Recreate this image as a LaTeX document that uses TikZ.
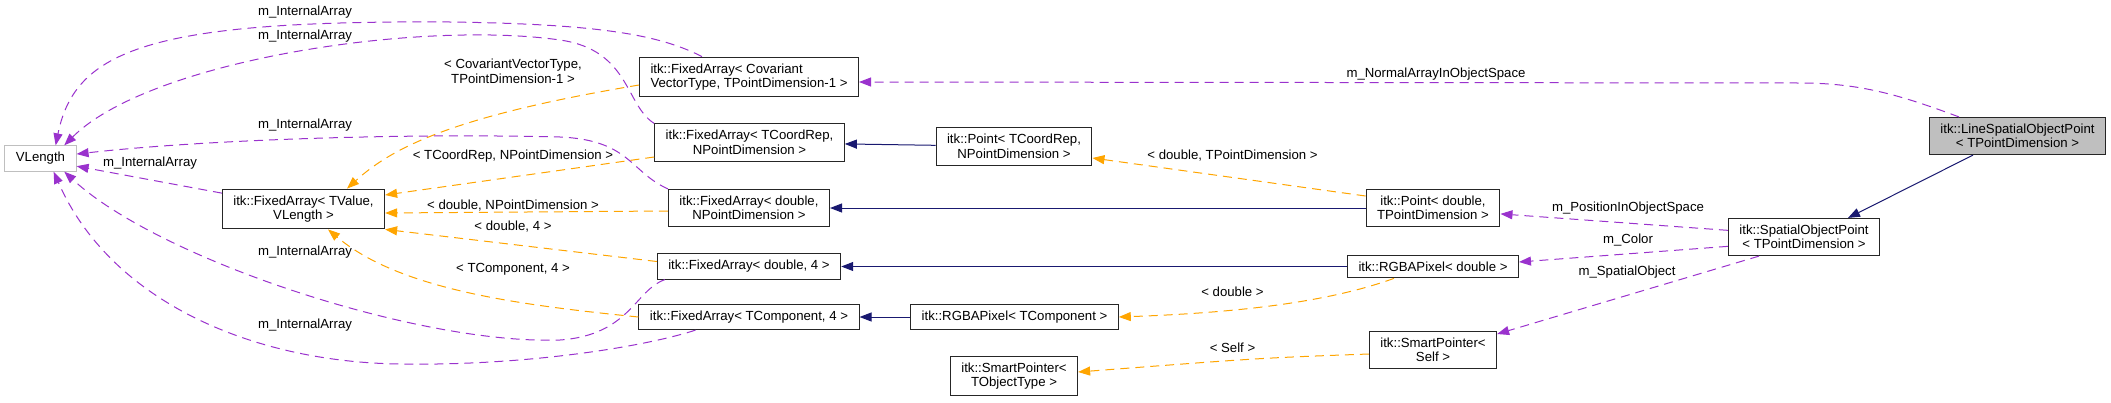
\documentclass[tikz,border=0pt]{standalone}
\usepackage{fontspec}
\setmainfont{Liberation Sans}
\usetikzlibrary{arrows.meta}
\definecolor{usecol}{HTML}{9A32CD}
\definecolor{tplcol}{HTML}{FFA500}
\definecolor{inhcol}{HTML}{191970}
\definecolor{boxgray}{HTML}{BFBFBF}

\begin{document}
\begin{tikzpicture}[x=1pt,y=-1pt,
  every node/.style={font=\fontsize{13.2}{14.5}\selectfont},
  klass/.style={draw=black!85,line width=1pt,fill=white,inner xsep=11pt,inner ysep=6.5pt,align=center},
  elab/.style={inner sep=0pt,align=center},
  usage/.style={draw=usecol,line width=1pt,dash pattern=on 9pt off 6pt,-{Triangle[length=12pt,width=9pt]}},
  templ/.style={draw=tplcol,line width=1pt,dash pattern=on 9pt off 6pt,-{Triangle[length=12pt,width=9pt]}},
  inherit/.style={draw=inhcol,line width=1pt,-{Triangle[length=12pt,width=9pt]}}]
  \useasboundingbox (0,0) rectangle (2111,402);

  \node[klass,draw=boxgray] (vlen) at (40.5,158.5) {VLength};
  \node[klass] (fatv) at (303.5,209) {itk::FixedArray< TValue,\\VLength >};
  \node[klass,align=left] (facov) at (749,77) {itk::FixedArray< Covariant\\VectorType, TPointDimension-1 >};
  \node[klass] (facoord) at (749.5,142.5) {itk::FixedArray< TCoordRep,\\NPointDimension >};
  \node[klass] (fadblnp) at (749,208) {itk::FixedArray< double,\\NPointDimension >};
  \node[klass] (fadbl4) at (749,266.5) {itk::FixedArray< double, 4 >};
  \node[klass] (facomp4) at (749,317) {itk::FixedArray< TComponent, 4 >};
  \node[klass] (ptcoord) at (1014,146.5) {itk::Point< TCoordRep,\\NPointDimension >};
  \node[klass] (rgbacomp) at (1014.5,317) {itk::RGBAPixel< TComponent >};
  \node[klass] (sptobj) at (1014,376) {itk::SmartPointer<\\TObjectType >};
  \node[klass] (ptdbl) at (1433,208) {itk::Point< double,\\TPointDimension >};
  \node[klass] (rgbadbl) at (1433,266.5) {itk::RGBAPixel< double >};
  \node[klass] (sptself) at (1433,350) {itk::SmartPointer<\\Self >};
  \node[klass] (spatial) at (1804,237) {itk::SpatialObjectPoint\\< TPointDimension >};
  \node[klass,fill=boxgray] (linesp) at (2017.5,136) {itk::LineSpatialObjectPoint\\< TPointDimension >};

  \draw[inherit] ([xshift=-44.5pt]linesp.south) -- ([xshift=44pt]spatial.north);
  \foreach \a/\b in {ptcoord/facoord,ptdbl/fadblnp,rgbadbl/fadbl4,rgbacomp/facomp4}
    \draw[inherit] (\a) -- (\b);

  \draw[templ] ([yshift=-8pt]facov.west) .. controls (460,115) and (395,145) .. ([xshift=43.5pt]fatv.north);
  \draw[templ] ([yshift=-14.5pt]facoord.west) -- ([yshift=14pt]fatv.east);
  \draw[templ] ([yshift=-3pt]fadblnp.west) -- ([yshift=-4pt]fatv.east);
  \draw[templ] ([yshift=5pt]fadbl4.west) -- (fatv.south east);
  \draw[templ] (facomp4.west) .. controls (520,305) and (400,290) .. ([xshift=24.5pt]fatv.south);
  \draw[templ] ([yshift=12pt]ptdbl.west) -- ([yshift=-11.5pt]ptcoord.east);
  \draw[templ] ([xshift=-39pt]rgbadbl.south) .. controls (1340,298) and (1260,312) .. (rgbacomp.east);
  \draw[templ] ([yshift=-4pt]sptself.west) .. controls (1260,358) .. ([yshift=4pt]sptobj.east);

  \draw[usage] ([xshift=-47pt]facov.north) .. controls (660,35) and (600,24) .. (450,22)
    .. controls (150,20) and (75,50) .. (vlen.41);
  \draw[usage] (facoord.north west) .. controls (625,105) and (630,50) .. (560,40)
    .. controls (420,20) and (150,60) .. (vlen.29);
  \draw[usage] (fadblnp.north west) .. controls (630,172) and (630,140) .. (560,137)
    .. controls (400,133) and (200,140) .. (vlen.7);
  \draw[usage] (fatv.169) -- (vlen.-12);
  \draw[usage] ([xshift=8pt]fadbl4.south west) .. controls (635,290) and (630,335) .. (560,340)
    .. controls (420,345) and (160,260) .. (vlen.-29);
  \draw[usage] ([xshift=57pt]facomp4.south west) .. controls (640,348) and (520,366) .. (400,364)
    .. controls (250,362) and (110,300) .. (vlen.-45);
  \draw[usage] ([xshift=30pt]linesp.north west) .. controls (1900,95) and (1860,83) .. (1800,83)
    -- ([yshift=-5pt]facov.east);
  \draw[usage] (spatial.175) -- (ptdbl.-5);
  \draw[usage] (spatial.187) -- (rgbadbl.3);
  \draw[usage] ([xshift=-45pt]spatial.south) -- (sptself.14);

  \foreach \y [count=\i] in {12,36,125,252,325}
    \node[elab] (ia\i) at (305,\y) {m\_InternalArray};
  \node[elab] (ia6) at (150,163) {m\_InternalArray};
  \node[elab] (lcov) at (513,71.5) {< CovariantVectorType,\\TPointDimension-1 >};
  \node[elab] (lcoord) at (513,156) {< TCoordRep, NPointDimension >};
  \node[elab] (ldblnp) at (513,206) {< double, NPointDimension >};
  \node[elab] (ldbl4) at (513,227) {< double, 4 >};
  \node[elab] (lcomp4) at (513,269) {< TComponent, 4 >};
  \node[elab] (lptdbl) at (1232.5,156) {< double, TPointDimension >};
  \node[elab] (ldbl) at (1232.5,292) {< double >};
  \node[elab] (lself) at (1232.5,348) {< Self >};
  \node[elab] (lnorm) at (1436,74) {m\_NormalArrayInObjectSpace};
  \node[elab] (lpos) at (1628,208) {m\_PositionInObjectSpace};
  \node[elab] (lcol) at (1628,240) {m\_Color};
  \node[elab] (lsp) at (1627,272) {m\_SpatialObject};
\end{tikzpicture}
\end{document}
